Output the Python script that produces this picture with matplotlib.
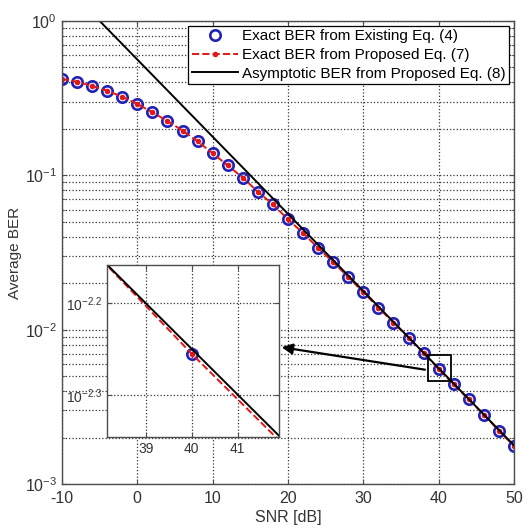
import numpy as np
import matplotlib
matplotlib.use('Agg')
import matplotlib.pyplot as plt
from matplotlib.patches import Rectangle

plt.rcParams['font.family'] = ['Liberation Sans', 'DejaVu Sans']
plt.rcParams['mathtext.fontset'] = 'custom'
plt.rcParams['mathtext.rm'] = 'Liberation Sans'
plt.rcParams['mathtext.it'] = 'Liberation Sans:italic'
plt.rcParams['axes.unicode_minus'] = False

# values
snr = [-10, -8, -6, -4, -2, 0, 2, 4, 6, 8, 10, 12, 14, 16, 18, 20,
       22, 24, 26, 28, 30, 32, 34, 36, 38, 40, 42, 44, 46, 48, 50]
ber_exact = [0.421, 0.404, 0.379, 0.353, 0.323, 0.290, 0.256, 0.225, 0.195,
             0.166, 0.139, 0.116, 0.0966, 0.0783, 0.0649, 0.0518, 0.0423,
             0.0338, 0.0274, 0.0219, 0.0175, 0.0139, 0.0111, 0.00887,
             0.00708, 0.00556, 0.00442, 0.00353, 0.00282, 0.00221, 0.00177]
snr_asym = [-10, 50]
ber_asym = [1.78, 0.00178]

labels = ['Exact BER from Existing Eq. (4)',
          'Exact BER from Proposed Eq. (7)',
          'Asymptotic BER from Proposed Eq. (8)']

spine_col = '0.3'
ring_col = '#2222b4'


def draw_curves(ax, ms=7.5):
    ax.semilogy(snr, ber_exact, 'o', color=ring_col, mfc='none', ms=ms,
                mew=1.9, label=labels[0])
    ax.semilogy(snr, ber_exact, '--', color='#e01818', lw=1.4, marker='.',
                ms=ms*0.8, label=labels[1])
    ax.semilogy(snr_asym, ber_asym, '-', color='k', lw=1.4, label=labels[2])


def style_axes(ax):
    ax.tick_params(which='both', direction='in', top=True, right=True,
                   colors=spine_col, labelcolor='0.2')
    for sp in ax.spines.values():
        sp.set_color(spine_col)
        sp.set_linewidth(1.0)


fig = plt.figure(figsize=(5.32, 5.28), dpi=100, facecolor='white')
ax = fig.add_axes([0.1165, 0.0833, 0.8496, 0.8769])
draw_curves(ax)
ax.set_xlim(-10, 50)
ax.set_ylim(1e-3, 1)
ax.set_xticks(np.arange(-10, 51, 10))
ax.grid(True, which='major', linestyle=':', color='0.2', lw=0.9)
ax.grid(True, which='minor', axis='y', linestyle=':', color='0.2', lw=0.9)
style_axes(ax)
ax.tick_params(labelsize=11.5)
ax.tick_params(axis='x', pad=5)
ax.set_xlabel('SNR [dB]', fontsize=11.5, color='0.2', labelpad=3)
ax.set_ylabel('Average BER', fontsize=11, color='0.2', labelpad=2)

leg = ax.legend(loc='upper right', fontsize=11, fancybox=False,
                edgecolor='k', framealpha=1, handlelength=3.0,
                handletextpad=0.25, borderpad=0.25, labelspacing=0.3,
                borderaxespad=0.3)
leg.get_frame().set_linewidth(0.9)

# zoom box and arrow
ax.add_patch(Rectangle((38.55, 10**-2.331), 41.6 - 38.55,
                       10**-2.165 - 10**-2.331, fill=False,
                       edgecolor='k', lw=1.3, zorder=5))
ax.annotate('', xy=(18.8, 10**-2.111), xytext=(38.55, 10**-2.262),
            arrowprops=dict(arrowstyle='-|>', color='k', lw=1.6,
                            mutation_scale=16), zorder=6)

# inset
axi = fig.add_axes([0.2011, 0.1723, 0.3233, 0.3258])
draw_curves(axi, ms=7.5)
axi.set_xlim(38.16, 41.9)
axi.set_ylim(10**-2.346, 10**-2.158)
axi.set_xticks([39, 40, 41])
axi.set_yticks([10**-2.3, 10**-2.2])
axi.set_yticklabels([r'$10^{-2.3}$', r'$10^{-2.2}$'])
axi.yaxis.set_minor_locator(matplotlib.ticker.NullLocator())
axi.grid(True, which='major', linestyle=':', color='0.2', lw=0.9)
style_axes(axi)
axi.tick_params(labelsize=10)

fig.savefig('out.png', dpi=100)
